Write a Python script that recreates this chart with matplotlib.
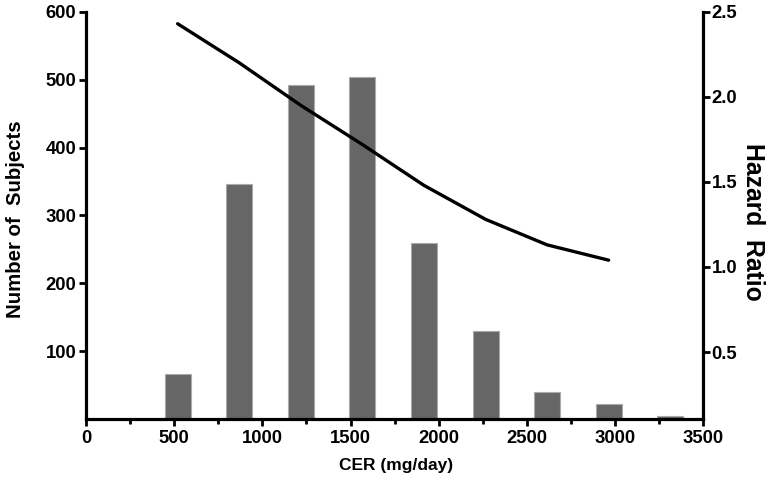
import matplotlib
matplotlib.use("Agg")
import matplotlib.pyplot as plt
from matplotlib.ticker import MultipleLocator, FormatStrFormatter

# Data
cer_centres = [519, 869, 1218, 1567, 1916, 2266, 2615, 2964, 3313]
n_subjects = [67, 346, 492, 504, 260, 129, 40, 22, 5]
hr_cer = [519, 869, 1218, 1567, 1916, 2266, 2615, 2964]
hazard_ratio = [2.43, 2.20, 1.95, 1.72, 1.48, 1.28, 1.13, 1.04]

plt.rcParams['font.family'] = ['Liberation Sans', 'DejaVu Sans']
plt.rcParams['font.weight'] = 'bold'

fig = plt.figure(figsize=(7.83, 4.93), dpi=100)
ax = fig.add_axes([0.110, 0.150, 0.788, 0.826])
ax2 = ax.twinx()

ax.bar(cer_centres, n_subjects, width=147, color='#666666',
       edgecolor='#aaaaaa', linewidth=0.8, zorder=2)
ax2.plot(hr_cer, hazard_ratio, color='black', linewidth=2.4,
         solid_capstyle='round', zorder=3)

ax.set_xlim(0, 3500)
ax.set_ylim(0, 600)
ax2.set_ylim(0.106, 2.5)

ax.xaxis.set_major_locator(MultipleLocator(500))
ax.xaxis.set_minor_locator(MultipleLocator(250))
ax.set_yticks([100, 200, 300, 400, 500, 600])
ax2.set_yticks([0.5, 1.0, 1.5, 2.0, 2.5])
ax2.yaxis.set_major_formatter(FormatStrFormatter('%.1f'))

lw = 2.3
for a in (ax, ax2):
    a.spines['top'].set_visible(False)
ax.spines['right'].set_visible(False)
ax.spines['left'].set_linewidth(lw)
ax.spines['bottom'].set_linewidth(lw)
ax2.spines['left'].set_visible(False)
ax2.spines['bottom'].set_visible(False)
ax2.spines['right'].set_linewidth(lw)

# size text so its width matches the reference (pixels)
probe = fig.text(0, 0, '600', fontsize=20, fontweight='bold')
lab_x = fig.text(0, 0, 'CER (mg/day)', fontsize=20, fontweight='bold')
lab_l = fig.text(0, 0, 'Number of  Subjects', fontsize=20, fontweight='bold')
lab_r = fig.text(0, 0, 'Hazard  Ratio', fontsize=20, fontweight='bold')
fig.canvas.draw()
r = fig.canvas.get_renderer()
def fit(t, target):
    return 20 * target / t.get_window_extent(r).width
ts = fit(probe, 31)
xs = fit(lab_x, 114)
ls = fit(lab_l, 198)
rs = fit(lab_r, 158)
for t in (probe, lab_x, lab_l, lab_r):
    t.remove()

ax.tick_params(axis='y', which='major', direction='out', length=5, width=2,
               labelsize=ts, pad=2)
ax.tick_params(axis='x', which='major', direction='out', length=5, width=2,
               labelsize=ts, pad=3)
ax.tick_params(axis='x', which='minor', direction='out', length=3.5, width=2)
ax2.tick_params(axis='y', which='major', direction='out', length=5, width=2,
                labelsize=ts, pad=1)

for lab in ax.get_xticklabels() + ax.get_yticklabels() + ax2.get_yticklabels():
    lab.set_fontweight('bold')

ax.set_xlabel('CER (mg/day)', fontsize=xs, fontweight='bold', va='center')
ax.xaxis.set_label_coords(0.502, -0.115)
ax.set_ylabel('Number of  Subjects', fontsize=ls, fontweight='bold', va='center')
ax.yaxis.set_label_coords(-0.115, 0.491)
ax2.set_ylabel('Hazard  Ratio', fontsize=rs, fontweight='bold', rotation=270,
               va='center')
ax2.yaxis.set_label_coords(1.081, 0.483)

fig.savefig('out.png', dpi=100)
